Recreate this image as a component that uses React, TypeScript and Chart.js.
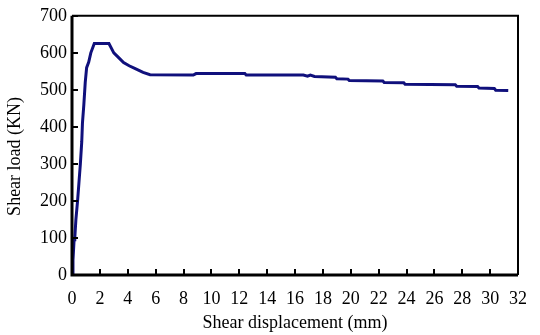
import React, { useEffect, useRef } from "react";
import { Chart, registerables } from "chart.js";

Chart.register(...registerables);

const displacement = [
  0, 0.07, 0.15, 0.2, 0.28, 0.4, 0.5, 0.6, 0.7, 0.75, 0.85, 0.95, 1.05, 1.2, 1.35, 1.6,
  2.65, 3.0, 3.4, 3.7, 4.1, 4.5, 5.1, 5.6, 8.7, 8.9, 12.4, 12.5, 16.6, 16.9, 17.1, 17.4,
  18.9, 19.0, 19.8, 19.9, 22.3, 22.4, 23.8, 23.9, 27.5, 27.6, 29.1, 29.2, 30.3, 30.4, 31.3,
];
const shearLoad = [
  0, 40, 95, 100, 150, 200, 250, 300, 360, 410, 460, 520, 560, 575, 600, 625,
  625, 600, 585, 574, 565, 558, 547, 541, 540, 544, 544, 540, 540, 537, 540, 536,
  534, 530, 529, 525, 524, 520, 519, 515, 514, 510, 509, 505, 504, 499, 498,
];

const xTicksMin = 0;
const xTicksMax = 32;
const xStep = 2;
const yTicksMin = 0;
const yTicksMax = 700;
const yStep = 100;
const xTitle = "Shear displacement (mm)";
const yTitle = "Shear load (KN)";

const FONT = "'Liberation Serif', 'DejaVu Serif', serif";

const framePlugin = {
  id: "frameTicks",
  afterDatasetsDraw(chart: any) {
    const { ctx, chartArea, scales } = chart;
    const { left, right, top, bottom } = chartArea;
    ctx.save();
    ctx.strokeStyle = "#000";
    ctx.lineWidth = 2;
    ctx.beginPath();
    ctx.moveTo(left, top);
    ctx.lineTo(right, top);
    ctx.lineTo(right, bottom);
    ctx.stroke();
    ctx.lineWidth = 3;
    ctx.beginPath();
    ctx.moveTo(left, top);
    ctx.lineTo(left, bottom);
    ctx.lineTo(right, bottom);
    ctx.stroke();
    ctx.lineWidth = 2;
    ctx.beginPath();
    scales.x.ticks.forEach((t: any) => {
      const px = Math.round(scales.x.getPixelForValue(t.value));
      ctx.moveTo(px, bottom);
      ctx.lineTo(px, bottom - 6);
    });
    scales.y.ticks.forEach((t: any) => {
      const py = Math.round(scales.y.getPixelForValue(t.value));
      ctx.moveTo(left, py);
      ctx.lineTo(left + 6, py);
    });
    ctx.stroke();
    // y axis title
    ctx.fillStyle = "#000";
    ctx.font = `18px ${FONT}`;
    ctx.textAlign = "center";
    ctx.textBaseline = "middle";
    ctx.translate(15, (top + bottom) / 2 + 11);
    ctx.rotate(-Math.PI / 2);
    ctx.fillText(yTitle, 0, 0);
    ctx.restore();
  },
};

export default function App() {
  const ref = useRef<HTMLCanvasElement | null>(null);

  useEffect(() => {
    document.body.style.margin = "0";
    const canvas = ref.current;
    if (!canvas) return;
    const points = displacement.map((x, i) => ({ x, y: shearLoad[i] }));
    const chart = new Chart(canvas, {
      type: "line",
      data: {
        datasets: [
          {
            data: points,
            borderColor: "#10107c",
            borderWidth: 3,
            pointRadius: 0,
            tension: 0,
            fill: false,
          },
        ],
      },
      options: {
        animation: false,
        responsive: false,
        maintainAspectRatio: false,
        layout: { padding: { left: 0, right: 10, top: 12, bottom: 0 } },
        plugins: { legend: { display: false }, tooltip: { enabled: false } },
        scales: {
          x: {
            type: "linear",
            min: xTicksMin,
            max: xTicksMax,
            ticks: {
              stepSize: xStep,
              color: "#000",
              font: { family: FONT, size: 18 },
              padding: 13,
              maxRotation: 0,
              autoSkip: false,
            },
            grid: { display: false, drawTicks: false },
            border: { display: false },
            title: {
              display: true,
              text: xTitle,
              color: "#000",
              font: { family: FONT, size: 18 },
              padding: { top: 0, bottom: 1 },
            },
            afterFit(scale: any) {
              scale.height = 60;
            },
          },
          y: {
            min: yTicksMin,
            max: yTicksMax,
            ticks: {
              stepSize: yStep,
              color: "#000",
              font: { family: FONT, size: 18 },
              padding: 5,
            },
            grid: { display: false, drawTicks: false },
            border: { display: false },
            title: { display: false },
            afterFit(scale: any) {
              scale.width = 72;
            },
          },
        },
      },
      plugins: [framePlugin],
    });
    return () => chart.destroy();
  }, []);

  return (
    <div style={{ width: 540, height: 335 }}>
      <canvas ref={ref} width={540} height={335} style={{ display: "block" }} />
    </div>
  );
}
